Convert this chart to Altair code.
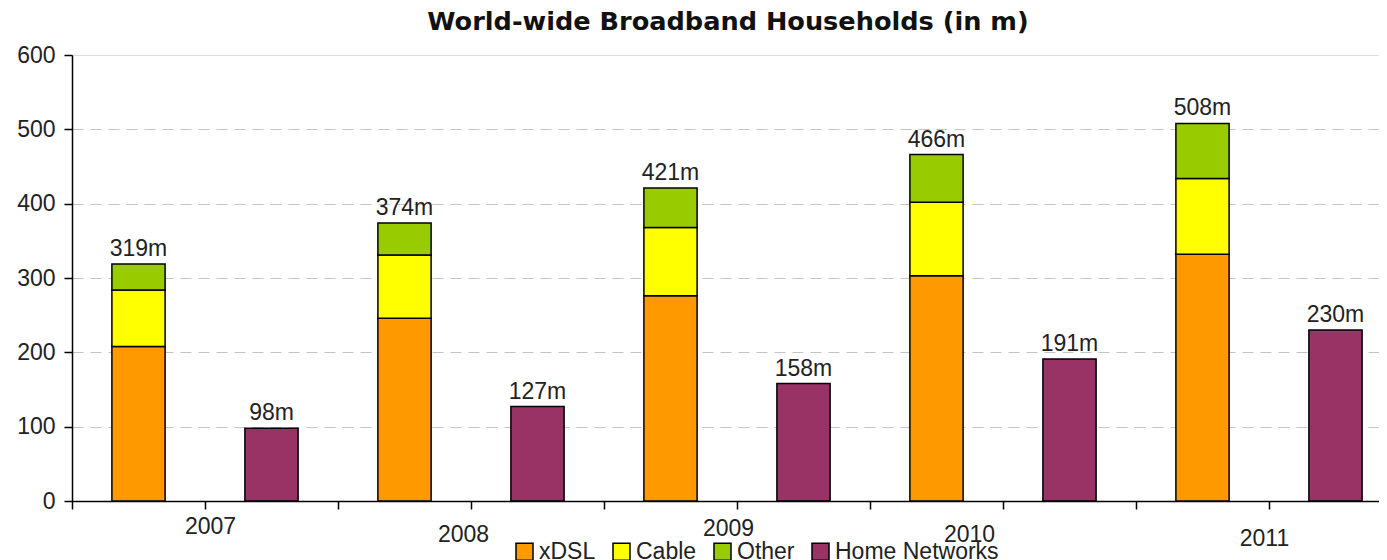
import altair as alt
import pandas as pd

years = ["2007", "2008", "2009", "2010", "2011"]
xdsl = [208, 246, 276, 303, 332]
cable = [76, 85, 92, 99, 102]
other = [35, 43, 53, 64, 74]
home = [98, 127, 158, 191, 230]
series_names = ["xDSL", "Cable", "Other", "Home Networks"]
series_colors = ["#FF9900", "#FFFF00", "#99CC00", "#993366"]
y_ticks = [0, 100, 200, 300, 400, 500, 600]

slots = []
for y in years:
    slots += [y + " BB", y + " HN"]

rows = []
for i, y in enumerate(years):
    rows.append({"slot": y + " BB", "series": "xDSL", "value": xdsl[i], "ord": 0})
    rows.append({"slot": y + " BB", "series": "Cable", "value": cable[i], "ord": 1})
    rows.append({"slot": y + " BB", "series": "Other", "value": other[i], "ord": 2})
    rows.append({"slot": y + " HN", "series": "Home Networks", "value": home[i], "ord": 0})
df = pd.DataFrame(rows)

tot_rows = []
for i, y in enumerate(years):
    t = xdsl[i] + cable[i] + other[i]
    tot_rows.append({"slot": y + " BB", "total": t, "label": f"{t}m"})
    tot_rows.append({"slot": y + " HN", "total": home[i], "label": f"{home[i]}m"})
tot = pd.DataFrame(tot_rows)

FONT = "Liberation Sans"

x_enc = alt.X(
    "slot:N",
    sort=slots,
    scale=alt.Scale(paddingInner=0, paddingOuter=0),
    axis=alt.Axis(
        title=None,
        bandPosition=0,
        labelAngle=0,
        labelAlign="center",
        labelBaseline="top",
        labelExpr="indexof(datum.value, 'HN') >= 0 ? substring(datum.value, 0, 4) : ''",
        labelPadding=alt.ExprRef(expr="datum.value == '2008 HN' ? 14 : datum.value == '2009 HN' ? 8 : datum.value == '2010 HN' ? 14 : datum.value == '2011 HN' ? 18 : 6"),
        labelOffset=alt.ExprRef(expr="datum.value == '2008 HN' ? -74 : datum.value == '2009 HN' ? -75 : datum.value == '2010 HN' ? -100 : datum.value == '2011 HN' ? -71 : -61"),
        labelFont=FONT,
        labelFontSize=23,
        labelColor="#222222",
        tickSize=8,
        tickColor="black",
        tickWidth=1.5,
        domainColor="black",
        domainWidth=1.5,
        labelOverlap=False,
    ),
)

y_scale = alt.Scale(domain=[0, 600], nice=False)

bars = alt.Chart(df).mark_bar(
    width=alt.RelativeBandSize(0.4), stroke="black", strokeWidth=1.5
).encode(
    x=x_enc,
    y=alt.Y(
        "value:Q",
        stack="zero",
        scale=y_scale,
        axis=alt.Axis(
            title=None,
            values=y_ticks,
            grid=True,
            gridDash=[11, 7],
            gridColor="#c4c4c4",
            gridWidth=1.2,
            gridOpacity=alt.ExprRef(expr="datum.value == 600 || datum.value == 0 ? 0 : 1"),
            tickSize=8,
            tickColor="black",
            tickWidth=1.5,
            domainColor="black",
            domainWidth=1.5,
            labelFont=FONT,
            labelFontSize=23,
            labelColor="#222222",
            labelPadding=9,
        ),
    ),
    color=alt.Color(
        "series:N",
        scale=alt.Scale(domain=series_names, range=series_colors),
        legend=alt.Legend(
            title=None,
            orient="none",
            direction="horizontal",
            legendX=441,
            legendY=485,
            symbolType="square",
            symbolSize=289,
            symbolStrokeColor="black",
            symbolStrokeWidth=1.5,
            symbolOpacity=1,
            labelFont=FONT,
            labelFontSize=23,
            labelColor="#222222",
            labelOffset=3,
            labelLimit=0,
            columnPadding=14,
        ),
    ),
    order=alt.Order("ord:Q", sort="ascending"),
)

labels = alt.Chart(tot).mark_text(
    baseline="bottom", dy=-3, font=FONT, fontSize=23, color="#222222"
).encode(
    x=alt.X("slot:N", sort=slots),
    y=alt.Y("total:Q", scale=y_scale),
    text="label:N",
)

chart = alt.layer(bars, labels).properties(
    width=1330,
    height=446,
    title=alt.TitleParams(
        "World-wide Broadband Households (in m)",
        font="DejaVu Sans",
        fontSize=25.6,
        fontWeight="bold",
        anchor="middle",
        color="#111111",
        offset=8,
        dx=-9,
    ),
    autosize=alt.AutoSizeParams(type="none"),
    padding={"left": 64, "top": 47, "right": -23, "bottom": 59},
).configure_view(stroke=None).configure(background="white")

chart.save("out.html", embed_options={"renderer": "svg", "actions": False})
